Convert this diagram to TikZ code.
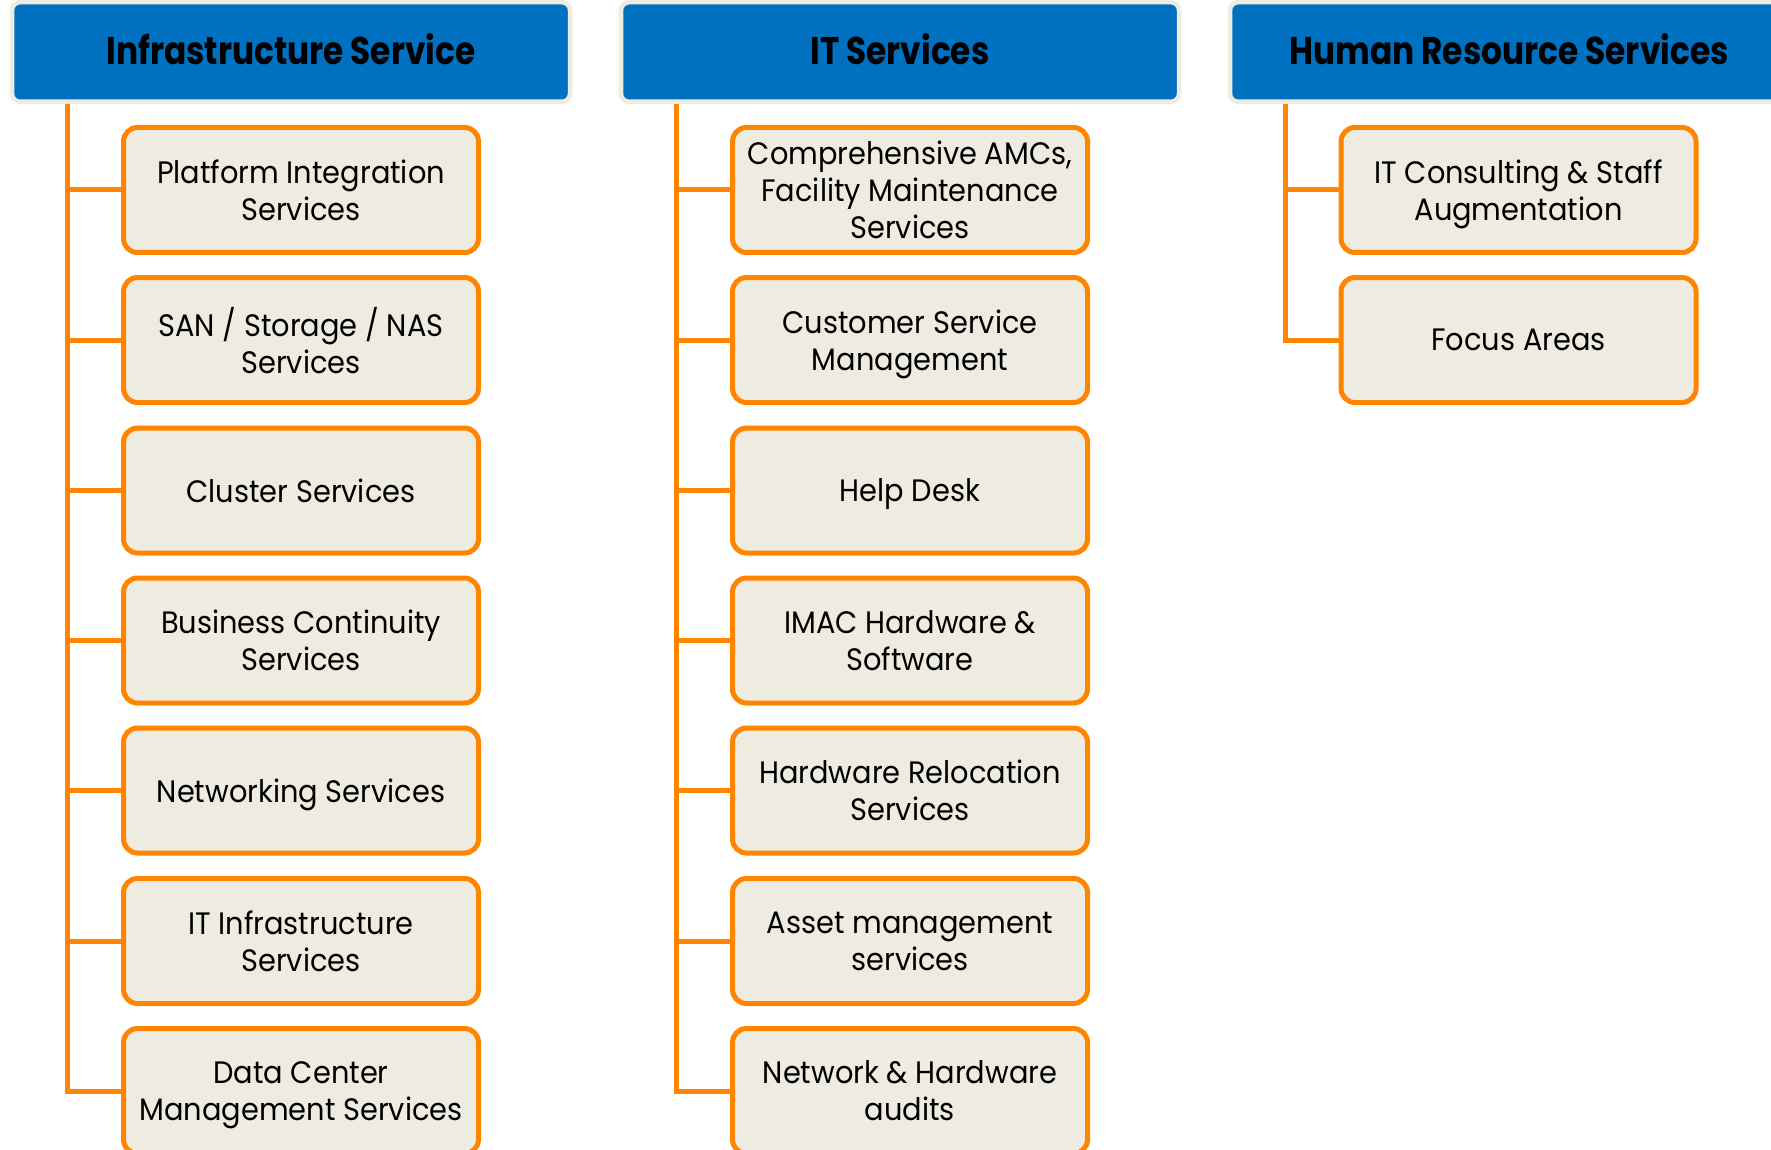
\documentclass[tikz,border=0pt]{standalone}
\usepackage{fontspec}
\setmainfont{Poppins}[FakeStretch=0.93]
\newfontfamily\headfont[FakeStretch=0.85]{Poppins}
\usetikzlibrary{calc}

\definecolor{hdrblue}{HTML}{0070C0}
\definecolor{hdrrim}{HTML}{EEECE1}
\definecolor{boxorange}{HTML}{FF8500}
\definecolor{boxfill}{HTML}{EEECE1}

\tikzset{
  header/.style={rounded corners=8pt, fill=hdrblue, draw=hdrrim, line width=4.5pt,
    minimum width=558pt, minimum height=99.5pt, inner sep=0pt, text depth=5pt,
    font=\headfont\bfseries\fontsize{38.6}{44}\selectfont},
  item/.style={rounded corners=14pt, fill=boxfill, draw=boxorange, line width=5pt,
    minimum width=355pt, minimum height=125pt, inner sep=0pt, align=center,
    text depth=0pt, font=\fontsize{31}{37}\selectfont},
  branch/.style={draw=boxorange, line width=5pt}
}

\begin{document}
\begin{tikzpicture}[x=1pt, y=-1pt]
\useasboundingbox (0,0) rectangle (1771,1150);
\clip (0,0) rectangle (1771,1150);

% infrastructure column
\node[item] (infra1) at (301,190)    {Platform Integration\\Services};
\node[item] (infra2) at (301,340)    {SAN / Storage / NAS\\Services};
\node[item] (infra3) at (301,490.5)  {Cluster Services};
\node[item] (infra4) at (301,640.5)  {Business Continuity\\Services};
\node[item] (infra5) at (301,790.5)  {Networking Services};
\node[item] (infra6) at (301,941)    {IT Infrastructure\\Services};
\node[item] (infra7) at (301,1091)   {Data Center\\Management Services};

% it column
\node[item] (it1) at (910,190)    {Comprehensive AMCs,\\Facility Maintenance\\Services};
\node[item] (it2) at (910,340)    {Customer Service\\Management};
\node[item] (it3) at (910,490.5)  {Help Desk};
\node[item] (it4) at (910,640.5)  {IMAC Hardware \&\\Software};
\node[item] (it5) at (910,790.5)  {Hardware Relocation\\Services};
\node[item] (it6) at (910,941)    {Asset management\\services};
\node[item] (it7) at (910,1091)   {Network \& Hardware\\audits};

% hr column
\node[item] (hr1) at (1518.5,190) {IT Consulting \& Staff\\Augmentation};
\node[item] (hr2) at (1518.5,340) {Focus Areas};

% spines and branches
\coordinate (infraspine) at (67,101);
\coordinate (itspine) at (676,101);
\coordinate (hrspine) at (1285.5,101);
\draw[branch] (infraspine) |- (infra7.west);
\draw[branch] (itspine) |- (it7.west);
\draw[branch] (hrspine) |- (hr2.west);
\foreach \n in {1,...,6} {
  \draw[branch] (infraspine |- infra\n.west) -- (infra\n.west);
  \draw[branch] (itspine |- it\n.west) -- (it\n.west);
}
\draw[branch] (hrspine |- hr1.west) -- (hr1.west);

% headers
\node[header] (infrahead) at (291,52)  {Infrastructure Service};
\node[header] (ithead)    at (900,52)  {IT Services};
\node[header] (hrhead)    at (1509,52) {Human Resource Services};
\end{tikzpicture}
\end{document}
